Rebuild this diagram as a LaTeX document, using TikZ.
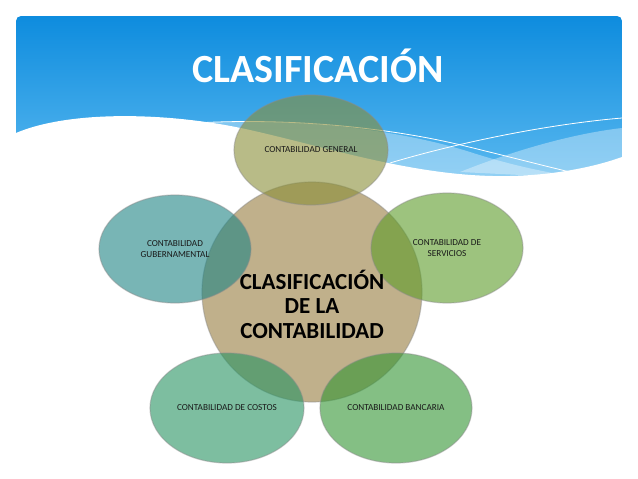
\documentclass[tikz,border=0pt]{standalone}
\usepackage{fontspec}
\setmainfont{Carlito}
\usetikzlibrary{shapes.geometric}

\definecolor{skytop}{RGB}{14,140,222}
\definecolor{skybot}{RGB}{92,186,240}
\definecolor{cCentro}{RGB}{150,124,62}
\definecolor{cGeneral}{RGB}{137,142,55}
\definecolor{cGober}{RGB}{30,132,132}
\definecolor{cServ}{RGB}{92,155,40}
\definecolor{cCostos}{RGB}{38,147,97}
\definecolor{cBanco}{RGB}{50,148,50}

\tikzset{
  bubble/.style={ellipse, inner sep=0pt, minimum width=152pt, minimum height=110pt,
    fill opacity=0.6, draw=black!45, draw opacity=0.45, line width=1.2pt},
  lbl/.style={font=\fontsize{9.2}{11.5}\selectfont, text=black!90, align=center},
}

\begin{document}
\begin{tikzpicture}[x=1pt,y=-1pt]
    \useasboundingbox (0,0) rectangle (638,479);
    % blue header with the wave
    \begin{scope}
       \clip[rounded corners=5pt] (16,16) rectangle (622,300);
       \shade[top color=skytop, bottom color=skybot] (16,16) rectangle (622,185);
       \fill[white, opacity=0.35] (195,123) .. controls (300,117) and (400,130) .. (470,152)
            .. controls (510,165) and (545,172) .. (570,176) -- (300,176) -- cycle;
       \fill[white, opacity=0.35] (460,172) .. controls (510,152) and (570,134) .. (622,128)
            -- (622,180) -- cycle;
       \fill[white] (16,133) .. controls (70,110) and (170,112) .. (250,130)
            .. controls (330,148) and (420,178) .. (510,176)
            .. controls (560,175) and (600,165) .. (622,157) -- (622,300) -- (16,300) -- cycle;
       \draw[white, line width=0.8pt] (195,123) .. controls (300,117) and (400,130) .. (465,146)
            .. controls (510,157) and (545,166) .. (570,172);
       \draw[white, line width=0.8pt] (390,163) .. controls (450,145) and (540,125) .. (622,118);
    \end{scope}
    \node[font=\fontsize{40}{44}\selectfont\bfseries, text=white, anchor=base] (titulo) at (318,82) {CLASIFICACIÓN};

    % circles
    \node[bubble, fill=cCentro, minimum width=220pt, minimum height=220pt] (centro) at (312,292) {};
    \node[bubble, fill=cGeneral, minimum width=154pt] (general) at (311,150) {};
    \node[bubble, fill=cGober, minimum height=108pt] (gober) at (175,249) {};
    \node[bubble, fill=cServ] (serv) at (447,248) {};
    \node[bubble, fill=cCostos, minimum width=154pt] (costos) at (227,408) {};
    \node[bubble, fill=cBanco] (banco) at (396,408) {};

    % texts
    \node[font=\fontsize{23}{24.5}\selectfont\bfseries, align=center] (tCentro) at (312,304)
        {CLASIFICACIÓN\\DE LA\\CONTABILIDAD};
    \node[lbl] (tGeneral) at (general) {CONTABILIDAD GENERAL};
    \node[lbl] (tGober) at (gober) {CONTABILIDAD\\GUBERNAMENTAL};
    \node[lbl] (tServ) at (serv) {CONTABILIDAD DE\\SERVICIOS};
    \node[lbl] (tCostos) at (costos) {CONTABILIDAD DE COSTOS};
    \node[lbl] (tBanco) at (banco) {CONTABILIDAD BANCARIA};
\end{tikzpicture}
\end{document}
